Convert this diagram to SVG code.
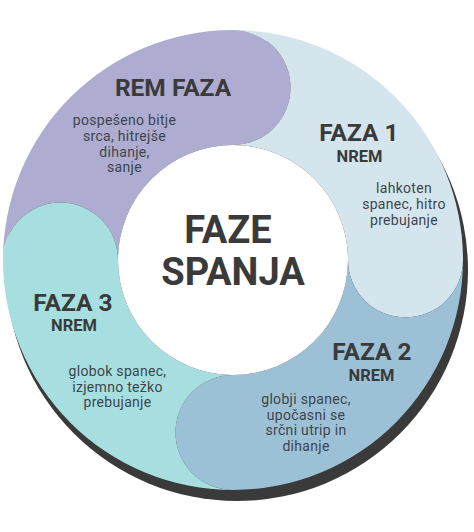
<svg xmlns="http://www.w3.org/2000/svg" width="474" height="532" viewBox="0 0 474 532">
<style>
.t{font-family:Roboto,"Liberation Sans",sans-serif;fill:#3a3a3a;text-anchor:middle}
.h{font-size:24.5px;font-weight:700}
.s{font-size:16.5px;font-weight:700}
.b{font-size:14px;fill:#3d454c;letter-spacing:0.3px}
.c{font-size:38px;font-weight:700}
</style>
<rect width="474" height="532" fill="#ffffff"/>
<circle id="shadow" cx="237" cy="270" r="231" fill="#3a3a3a"/>
<g id="connectors"></g>
<g id="rem">
<path d="M3 260A230 230 0 0 1 233 30A57.5 57.5 0 0 1 233 145A115 115 0 0 0 118 260A57.5 57.5 0 0 0 3 260Z" fill="#aeadd1"/>
<text class="t h" x="173" y="96">REM FAZA</text>
<text class="t b" x="124.5" y="125">pospešeno bitje</text>
<text class="t b" x="124.5" y="141">srca, hitrejše</text>
<text class="t b" x="124.5" y="156.5">dihanje,</text>
<text class="t b" x="124.5" y="172">sanje</text>
</g>
<g id="faza1">
<path d="M233 30A230 230 0 0 1 463 260A57.5 57.5 0 0 1 348 260A115 115 0 0 0 233 145A57.5 57.5 0 0 0 233 30Z" fill="#d5e5ee"/>
<text class="t h" x="359" y="141">FAZA 1</text>
<text class="t s" x="359.5" y="162">NREM</text>
<text class="t b" x="404" y="193">lahkoten</text>
<text class="t b" x="404" y="209">spanec, hitro</text>
<text class="t b" x="404" y="225">prebujanje</text>
</g>
<g id="faza2">
<path d="M463 260A230 230 0 0 1 233 490A57.5 57.5 0 0 1 233 375A115 115 0 0 0 348 260A57.5 57.5 0 0 0 463 260Z" fill="#9cc1d7"/>
<text class="t h" x="372" y="360">FAZA 2</text>
<text class="t s" x="371.5" y="381">NREM</text>
<text class="t b" x="306" y="404">globji spanec,</text>
<text class="t b" x="306" y="419.5">upočasni se</text>
<text class="t b" x="306" y="435">srčni utrip in</text>
<text class="t b" x="306" y="450.5">dihanje</text>
</g>
<g id="faza3">
<path d="M233 490A230 230 0 0 1 3 260A57.5 57.5 0 0 1 118 260A115 115 0 0 0 233 375A57.5 57.5 0 0 0 233 490Z" fill="#a7dfe0"/>
<text class="t h" x="73" y="311">FAZA 3</text>
<text class="t s" x="74" y="331">NREM</text>
<text class="t b" x="117.5" y="376">globok spanec,</text>
<text class="t b" x="117.5" y="391.5">izjemno težko</text>
<text class="t b" x="117.5" y="407">prebujanje</text>
</g>
<g id="center">
<circle cx="233" cy="260" r="115" fill="#ffffff"/>
<text class="t c" x="228" y="243">FAZE</text>
<text class="t c" x="233" y="285">SPANJA</text>
</g>
</svg>
